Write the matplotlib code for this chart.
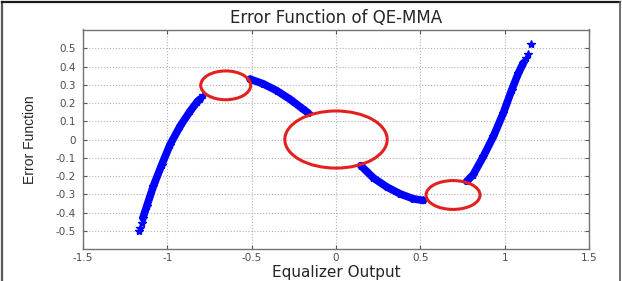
import matplotlib
matplotlib.use('Agg')
import matplotlib.pyplot as plt
from matplotlib.patches import Ellipse
from matplotlib.lines import Line2D

# curve, one list pair per visible branch
seg1_x = [-1.145, -1.122, -1.083, -1.033, -0.984, -0.925, -0.866, -0.822, -0.805]
seg1_y = [-0.430, -0.366, -0.256, -0.138, -0.028, 0.072, 0.154, 0.208, 0.222]
seg2_x = [-0.510, -0.431, -0.352, -0.273, -0.203, -0.164]
seg2_y = [0.331, 0.305, 0.268, 0.221, 0.172, 0.145]
seg3_x = [0.147, 0.221, 0.301, 0.380, 0.459, 0.518]
seg3_y = [-0.143, -0.210, -0.260, -0.298, -0.325, -0.334]
seg4_x = [0.775, 0.814, 0.874, 0.933, 0.992, 1.042, 1.081, 1.111]
seg4_y = [-0.229, -0.192, -0.092, 0.017, 0.145, 0.272, 0.363, 0.420]

# loose points at the ends of the branches
sparse_x = [-1.168, -1.160, -1.152, -0.790, 1.128, 1.140, 1.157]
sparse_y = [-0.502, -0.485, -0.455, 0.245, 0.445, 0.470, 0.523]

# red circles: centre x, centre y, width, height
circ_x = [-0.654, 0.0, 0.694]
circ_y = [0.297, 0.0, -0.304]
circ_w = [0.296, 0.607, 0.320]
circ_h = [0.158, 0.313, 0.158]

xticks = [-1.5, -1, -0.5, 0, 0.5, 1, 1.5]
xtick_labels = ['-1.5', '-1', '-0.5', '0', '0.5', '1', '1.5']
yticks = [-0.5, -0.4, -0.3, -0.2, -0.1, 0, 0.1, 0.2, 0.3, 0.4, 0.5]
ytick_labels = ['-0.5', '-0.4', '-0.3', '-0.2', '-0.1', '0', '0.1', '0.2', '0.3', '0.4', '0.5']

fig = plt.figure(figsize=(6.22, 2.81), dpi=100)
ax = fig.add_axes([83/622, 1 - 249/281, 506/622, 219.5/281])

for sx, sy in [(seg1_x, seg1_y), (seg2_x, seg2_y), (seg3_x, seg3_y), (seg4_x, seg4_y)]:
    ax.plot(sx, sy, color='#0000ff', lw=5.5, solid_capstyle='round',
            marker='*', ms=6, zorder=3)
ax.plot(sparse_x, sparse_y, linestyle='none', color='#0000ff', marker='*', ms=6, zorder=3)

for cx, cy, w, h in zip(circ_x, circ_y, circ_w, circ_h):
    ax.add_patch(Ellipse((cx, cy), w, h, fill=False, edgecolor='#e41f1f', lw=2.2, zorder=5))

ax.set_xlim(-1.5, 1.5)
ax.set_ylim(-0.6, 0.603)
ax.set_xticks(xticks)
ax.set_xticklabels(xtick_labels)
ax.set_yticks(yticks)
ax.set_yticklabels(ytick_labels)
ax.tick_params(direction='in', length=3, width=0.8, colors='0.35', labelsize=7.5,
               top=True, right=True)
ax.tick_params(axis='x', pad=3)
ax.tick_params(axis='y', pad=5)
for lab in ax.get_xticklabels() + ax.get_yticklabels():
    lab.set_color('0.3')
ax.grid(True, linestyle=':', color='0.7', lw=0.8)
for sp in ax.spines.values():
    sp.set_color('0.45')
    sp.set_linewidth(1.0)

ax.set_title('Error Function of QE-MMA', fontsize=12, color='0.15', pad=5)
ax.set_xlabel('Equalizer Output', fontsize=11, color='0.15', labelpad=1)
ax.set_ylabel('Error Function', fontsize=10, color='0.15',
              family=['Liberation Sans Narrow', 'Liberation Sans', 'DejaVu Sans'])
ax.yaxis.set_label_coords(-0.091, 0.5)

# frame around the whole picture (left, top, right)
fig.add_artist(Line2D([2/622, 2/622], [0, 1 - 2/281], color='0.35', lw=1.6))
fig.add_artist(Line2D([2/622, 620/622], [1 - 2/281, 1 - 2/281], color='0.1', lw=1.6))
fig.add_artist(Line2D([620/622, 620/622], [0, 1 - 2/281], color='0.35', lw=1.2))

fig.savefig('out.png', dpi=100)
